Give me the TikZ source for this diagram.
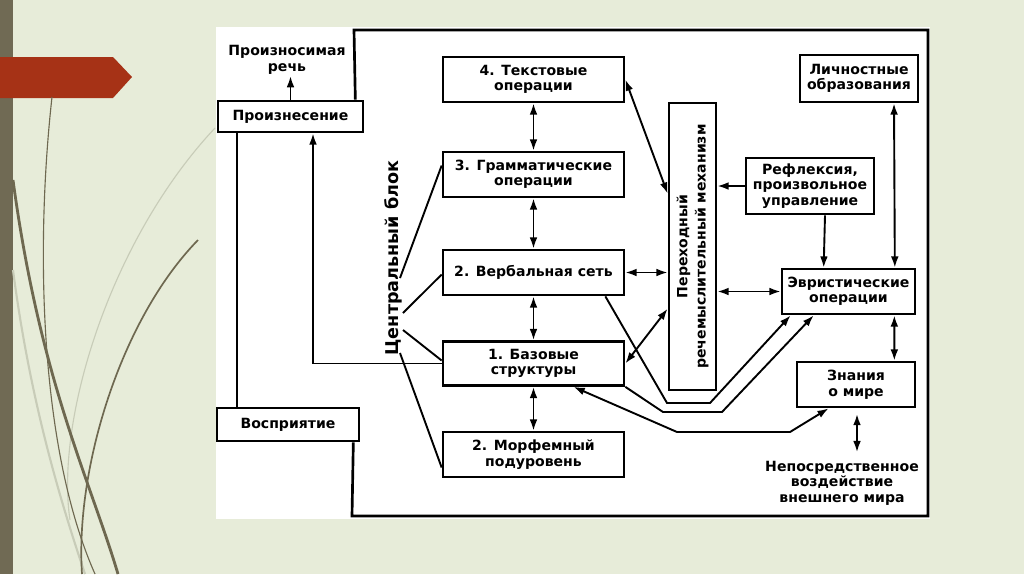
\documentclass[tikz,border=0pt]{standalone}
\usepackage{fontspec}
\setmainfont{DejaVu Sans}
\usetikzlibrary{arrows.meta,calc}

\definecolor{slidebg}{RGB}{231,236,217}
\definecolor{slidebar}{RGB}{112,106,84}
\definecolor{slidered}{RGB}{166,50,22}
\definecolor{stem}{RGB}{110,104,80}
\definecolor{stemlight}{RGB}{200,204,184}

\tikzset{
  bx/.style n args={2}{draw, line width=1.9pt, fill=white, align=center, inner sep=0pt,
    minimum width=#1*0.025cm, minimum height=#2*0.025cm,
    font=\bfseries\fontsize{10}{11}\selectfont},
  txt/.style={align=center, inner sep=0pt, font=\bfseries\fontsize{10}{11}\selectfont},
  ln/.style={line width=1.35pt},
  arr/.style={ln, ->},
  darr/.style={ln, <->},
}

\begin{document}
\begin{tikzpicture}[x=0.025cm, y=-0.025cm, >={Latex[length=8pt,width=5.5pt]}]
		%%%%% SLIDE %%%%%
		\useasboundingbox (0,0) rectangle (1024,574);
		\fill[slidebg] (0,0) rectangle (1024,574);
		\fill[slidebar] (0,0) rectangle (13,574);
		\fill[slidered] (0,57) -- (113,57) -- (132,77) -- (113,98) -- (0,98) -- cycle;
		
		\draw[stemlight, line width=0.8pt] (215,128) .. controls (110,240) and (55,420) .. (70,520);
		\draw[stemlight, line width=1.5pt] (13,270) .. controls (30,400) and (60,500) .. (85,574);
		\draw[stem, line width=2pt] (13,180) .. controls (40,380) and (90,480) .. (118,574);
		\draw[stem, line width=0.8pt] (52,97) .. controls (35,250) and (40,450) .. (95,574);
		\draw[stem, line width=1.2pt] (198,240) .. controls (120,320) and (75,470) .. (82,574);
		
		\fill[white] (216,27) rectangle (930,519);
		
		%%%%% BLOCKS %%%%%
		\node[bx={145}{31}] (pron) at (290.5,116.5) {Произнесение};
		\node[txt] (speech) at (287,60) {Произносимая\\речь};
		\node[bx={142}{33}] (perc) at (288,424.5) {Восприятие};
		
		\node[bx={181}{45}] (text4) at (533.5,79.5) {4. Текстовые\\операции};
		\node[bx={181}{45}] (gram3) at (533.5,174.5) {3. Грамматические\\операции};
		\node[bx={181}{45}] (verb2) at (533.5,272.5) {2. Вербальная сеть};
		\node[bx={181}{44}] (base1) at (533.5,363.5) {1. Базовые\\структуры};
		\node[bx={181}{45}] (morph) at (533.5,454.5) {2. Морфемный\\подуровень};
		
		\node[txt, rotate=90, font=\bfseries\fontsize{12.5}{14}\selectfont] (cblock) at (393,258) {Центральный блок};
		\coordinate (cb1) at (400,278);
		\coordinate (cb2) at (403,313);
		\coordinate (cb3) at (403,330);
		\coordinate (cb4) at (400,353);
		
		\node[bx={47}{287}, label={[txt, rotate=90, font=\bfseries\fontsize{10}{13}\selectfont]center:Переходный\\речемыслительный механизм}] (mech) at (692.5,246.5) {};
		
		\node[bx={118}{47}] (pers) at (859,78.5) {Личностные\\образования};
		\node[bx={128}{56}] (refl) at (810,186) {Рефлексия,\\произвольное\\управление};
		\node[bx={133}{45}] (heur) at (848.5,291.5) {Эвристические\\операции};
		\node[bx={118}{45}] (know) at (856,384.5) {Знания\\о мире};
		\node[txt] (world) at (842,483) {Непосредственное\\воздействие\\внешнего мира};
		
		%%%%% FRAME %%%%%
		\draw[line width=1.9pt] ($(pron.north east)+(-9,0)$) -- (354,30) -- (928,30) -- (928,516) -- (352,516) -- ($(perc.south east)+(-7,0)$);
		
		%%%%% LINKS %%%%%
		\draw[arr, shorten >=1pt] (pron.north) -- (pron.north |- speech.south);
		\draw[ln] ($(pron.south west)+(20,0)$) -- ($(perc.north west)+(21,0)$);
		\draw[arr] (base1.west) -| ($(pron.south)+(22.5,0)$);
		
		\draw[ln] (cb1) -- ($(gram3.west)+(0,-9)$);
		\draw[ln] (cb2) -- ($(verb2.west)+(0,2)$);
		\draw[ln] (cb3) -- ($(base1.west)+(0,-3)$);
		\draw[ln] (cb4) -- ($(morph.west)+(0,13)$);
		
		\foreach \a/\b in {text4/gram3, gram3/verb2, verb2/base1, base1/morph}
			\draw[darr] (\a.south) -- (\b.north);
		
		\draw[darr] (text4.east) -- ($(mech.north west)+(0,92)$);
		\draw[darr] (verb2.east) -- (verb2.east -| mech.west);
		\draw[darr] (base1.east) -- ($(mech.north west)+(0,207)$);
		\draw[arr] (refl.west) -- (refl.west -| mech.east);
		\draw[darr] (heur.west -| mech.east) -- (heur.west);
		
		\draw[arr] ($(refl.south)+(15,0)$) -- ($(heur.north west)+(43,0)$);
		\draw[darr] ($(pers.south)+(35,0)$) -- ($(heur.north east)+(-21.5,0)$);
		\draw[darr] ($(heur.south east)+(-22,0)$) -- ($(know.north east)+(-22,0)$);
		\draw[darr, shorten <=4pt, shorten >=6pt] ($(know.south)+(1,0)$) -- ($(world.north)+(15,0)$);
		
		\draw[arr] ($(verb2.south east)+(-20,0)$) -- (667,403) -- (710,403) -- ($(heur.south west)+(10,0)$);
		\draw[arr] (base1.south east) -- (663,412) -- (722,412) -- ($(heur.south west)+(33,0)$);
		\draw[darr] ($(base1.south)+(40,0)$) -- (677,432) -- (790,432) -- ($(know.south west)+(33,0)$);
		
		%%%%% END %%%%%
\end{tikzpicture}
\end{document}
